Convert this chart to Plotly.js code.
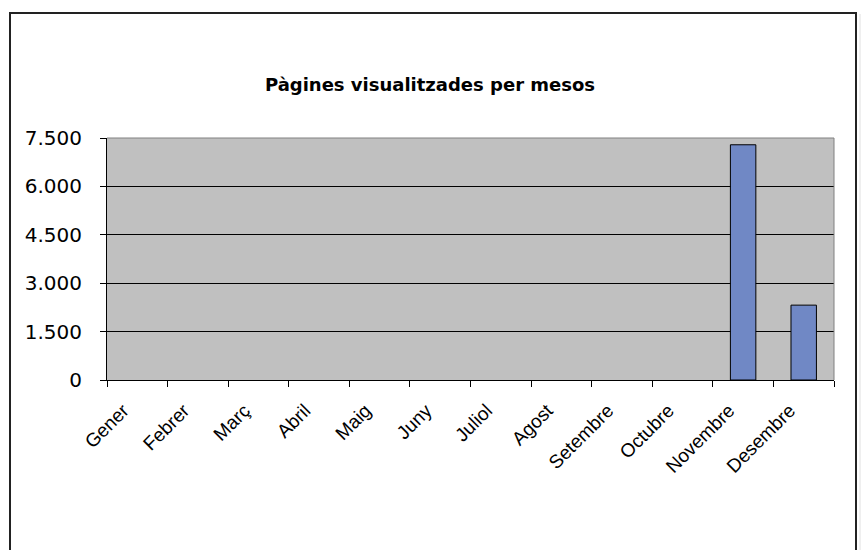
<!DOCTYPE html>
<html>
<head>
<meta charset="utf-8">
<script src="https://cdn.plot.ly/plotly-3.0.1.min.js"></script>
<style>html,body{margin:0;padding:0;background:#fff;}#chart{width:861px;height:550px;}</style>
</head>
<body>
<div id="chart"></div>
<script>
var months = ["Gener","Febrer","Març","Abril","Maig","Juny","Juliol","Agost","Setembre","Octubre","Novembre","Desembre"];
var pageViews = [0,0,0,0,0,0,0,0,0,0,7290,2320];
var yTicks = [0,1500,3000,4500,6000,7500];

var L = 107, R = 834, T = 138, B = 380, W = 861, H = 550;
function px(x){ return (x - L) / (R - L); }
function py(y){ return (B - y) / (B - T); }

var trace = {
  type: "bar",
  x: months,
  y: pageViews,
  marker: {
    color: "#7088C5",
    line: {color: "#000000", width: pageViews.map(function(v){ return v > 0 ? 1 : 0; })}
  },
  hoverinfo: "x+y"
};

var layout = {
  width: W, height: H,
  margin: {l: L, r: W - R, t: T, b: H - B, pad: 0},
  paper_bgcolor: "#ffffff",
  plot_bgcolor: "#C0C0C0",
  separators: ",.",
  showlegend: false,
  bargap: 0.58,
  title: {
    text: "<b>Pàgines visualitzades per mesos</b>",
    font: {family: "DejaVu Sans", size: 18, color: "#000000"},
    x: 430 / W, xref: "container", xanchor: "center",
    y: 1 - 85 / H, yref: "container", yanchor: "middle"
  },
  xaxis: {
    type: "category",
    tickson: "boundaries",
    ticks: "outside", ticklen: 6, tickcolor: "#000000", tickwidth: 1,
    tickangle: -45,
    ticklabelstandoff: 11,
    ticklabelshift: -14,
    tickfont: {family: "Liberation Sans, Arial", size: 19, color: "#000000"},
    showline: true, linecolor: "#000000", linewidth: 1,
    showgrid: false, zeroline: false, fixedrange: true
  },
  yaxis: {
    range: [0, 7500],
    tickvals: yTicks,
    tickformat: ",d",
    ticks: "outside", ticklen: 6, tickcolor: "#000000", tickwidth: 1,
    ticklabelstandoff: 14,
    tickfont: {family: "DejaVu Sans, Verdana", size: 20, color: "#000000"},
    showline: true, linecolor: "#000000", linewidth: 1,
    showgrid: true, gridcolor: "#000000", gridwidth: 1,
    zeroline: false, fixedrange: true
  },
  shapes: [
    {type: "line", xref: "paper", yref: "paper", x0: 0, x1: 1, y0: 1, y1: 1,
     line: {color: "#808080", width: 1}, layer: "above"},
    {type: "line", xref: "paper", yref: "paper", x0: 1, x1: 1, y0: 0, y1: 1,
     line: {color: "#808080", width: 1}, layer: "above"},
    {type: "rect", xref: "paper", yref: "paper",
     x0: px(10), x1: px(856), y0: py(13), y1: py(570),
     line: {color: "#222222", width: 2}, fillcolor: "rgba(0,0,0,0)", layer: "below"},
    {type: "line", xref: "paper", yref: "paper", x0: px(860), x1: px(860), y0: py(14), y1: py(570),
     line: {color: "#e0e0e0", width: 1}, layer: "below"}
  ]
};

Plotly.newPlot("chart", [trace], layout, {displayModeBar: false, staticPlot: true});
</script>
</body>
</html>
